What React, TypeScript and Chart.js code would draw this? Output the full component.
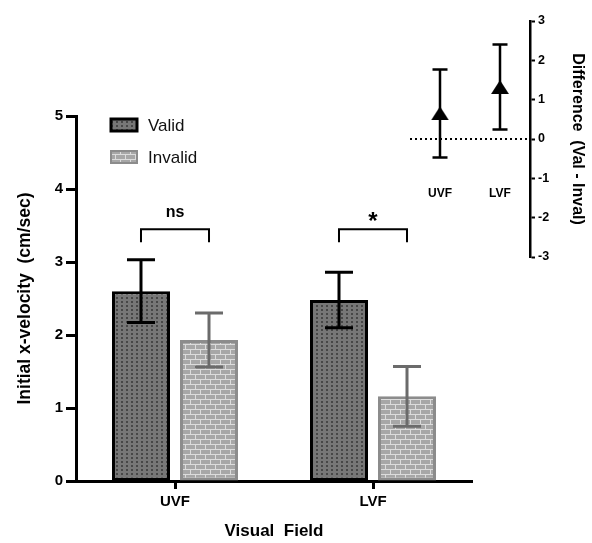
import React, { useEffect, useRef } from 'react';
import { Chart, registerables } from 'chart.js';

Chart.register(...registerables);

// ---- data ----
const categories = ['UVF', 'LVF'];
const seriesNames = ['Valid', 'Invalid'];
const validMeans = [2.6, 2.48];
const validErrors = [0.43, 0.38];
const invalidMeans = [1.93, 1.16];
const invalidErrors = [0.37, 0.41];
const sigLabels = ['ns', '*'];
const bracketLevels = [3.45, 3.45];
const mainTicks = [0, 1, 2, 3, 4, 5];

const diffMeans = [0.65, 1.32];
const diffErrors = [1.12, 1.08];
const diffTicks = [-3, -2, -1, 0, 1, 2, 3];

const FONT = "'Liberation Sans', Arial, Helvetica, sans-serif";

function makeDotPattern(): CanvasPattern | string {
  const c = document.createElement('canvas');
  c.width = 5;
  c.height = 4;
  const g = c.getContext('2d')!;
  g.fillStyle = '#777777';
  g.fillRect(0, 0, 5, 4);
  g.fillStyle = '#474747';
  g.fillRect(1, 1, 2, 2);
  const ctx = document.createElement('canvas').getContext('2d')!;
  return ctx.createPattern(c, 'repeat') || '#777777';
}

function makeBrickPattern(): CanvasPattern | string {
  const c = document.createElement('canvas');
  c.width = 10;
  c.height = 10;
  const g = c.getContext('2d')!;
  g.fillStyle = '#dcdcdc';
  g.fillRect(0, 0, 10, 10);
  g.fillStyle = '#a7a7a7';
  g.fillRect(1, 0, 9, 4);
  g.fillRect(6, 5, 9, 4);
  g.fillRect(-4, 5, 9, 4);
  const ctx = document.createElement('canvas').getContext('2d')!;
  return ctx.createPattern(c, 'repeat') || '#b0b0b0';
}

function makeTriangle(): HTMLCanvasElement {
  const c = document.createElement('canvas');
  c.width = 18;
  c.height = 14;
  const g = c.getContext('2d')!;
  g.fillStyle = '#000';
  g.beginPath();
  g.moveTo(9, 0);
  g.lineTo(18, 14);
  g.lineTo(0, 14);
  g.closePath();
  g.fill();
  return c;
}

export default function App() {
  const mainRef = useRef<HTMLCanvasElement>(null);
  const insetRef = useRef<HTMLCanvasElement>(null);

  useEffect(() => {
    if (!mainRef.current || !insetRef.current) return;
    const dots = makeDotPattern();
    const bricks = makeBrickPattern();
    const tri = makeTriangle();

    const errSets = [validErrors, invalidErrors];
    const errColors = ['#000000', '#6b6b6b'];

    const errorBarsPlugin = {
      id: 'errorBars',
      afterDatasetsDraw(chart: any) {
        const ctx = chart.ctx;
        const y = chart.scales.y;
        ctx.save();
        ctx.lineWidth = 3;
        ctx.lineCap = 'butt';
        [0, 1].forEach((di) => {
          const meta = chart.getDatasetMeta(di);
          const vals = chart.data.datasets[di].data as number[];
          ctx.strokeStyle = errColors[di];
          meta.data.forEach((el: any, i: number) => {
            const top = y.getPixelForValue(vals[i] + errSets[di][i]);
            const bot = y.getPixelForValue(vals[i] - errSets[di][i]);
            ctx.beginPath();
            ctx.moveTo(el.x, top);
            ctx.lineTo(el.x, bot);
            ctx.moveTo(el.x - 14, top);
            ctx.lineTo(el.x + 14, top);
            ctx.moveTo(el.x - 14, bot);
            ctx.lineTo(el.x + 14, bot);
            ctx.stroke();
          });
        });
        ctx.restore();
      },
    };

    const bracketPlugin = {
      id: 'brackets',
      afterDatasetsDraw(chart: any) {
        const ctx = chart.ctx;
        const y = chart.scales.y;
        const m0 = chart.getDatasetMeta(0);
        const m1 = chart.getDatasetMeta(1);
        ctx.save();
        ctx.strokeStyle = '#000';
        ctx.lineWidth = 2;
        ctx.fillStyle = '#000';
        ctx.textAlign = 'center';
        ctx.textBaseline = 'alphabetic';
        categories.forEach((_, i) => {
          const x1 = m0.data[i].x;
          const x2 = m1.data[i].x;
          const yl = y.getPixelForValue(bracketLevels[i]);
          ctx.beginPath();
          ctx.moveTo(x1, yl + 13);
          ctx.lineTo(x1, yl);
          ctx.lineTo(x2, yl);
          ctx.lineTo(x2, yl + 13);
          ctx.stroke();
          const lab = sigLabels[i];
          if (lab === '*') {
            ctx.font = `bold 24px ${FONT}`;
            ctx.fillText(lab, (x1 + x2) / 2, yl);
          } else {
            ctx.font = `bold 16px ${FONT}`;
            ctx.fillText(lab, (x1 + x2) / 2, yl - 12);
          }
        });
        ctx.restore();
      },
    };

    const legendPlugin = {
      id: 'customLegend',
      afterDraw(chart: any) {
        const ctx = chart.ctx;
        const left = chart.chartArea.left + 35;
        const rows = [125, 157];
        const fills = [dots, bricks];
        const strokes = ['#000', '#8c8c8c'];
        const widths = [3, 2];
        ctx.save();
        seriesNames.forEach((name, i) => {
          const cy = rows[i];
          ctx.fillStyle = fills[i];
          ctx.fillRect(left, cy - 6, 26, 12);
          ctx.strokeStyle = strokes[i];
          ctx.lineWidth = widths[i];
          ctx.strokeRect(left, cy - 6, 26, 12);
          ctx.fillStyle = '#111';
          ctx.font = `17px ${FONT}`;
          ctx.textAlign = 'left';
          ctx.textBaseline = 'middle';
          ctx.fillText(name, left + 37, cy + 1);
        });
        ctx.restore();
      },
    };

    const main = new Chart(mainRef.current, {
      type: 'bar',
      data: {
        labels: categories,
        datasets: [
          {
            label: seriesNames[0],
            data: validMeans,
            backgroundColor: dots as any,
            borderColor: '#000000',
            borderWidth: 3,
            borderSkipped: false,
            categoryPercentage: 0.687,
            barPercentage: 0.853,
          },
          {
            label: seriesNames[1],
            data: invalidMeans,
            backgroundColor: bricks as any,
            borderColor: '#8c8c8c',
            borderWidth: 3,
            borderSkipped: false,
            categoryPercentage: 0.687,
            barPercentage: 0.853,
          },
        ],
      },
      options: {
        animation: false,
        responsive: false,
        maintainAspectRatio: false,
        layout: { padding: { top: 116, right: 120, left: 0, bottom: 0 } },
        plugins: { legend: { display: false }, tooltip: { enabled: false } },
        scales: {
          x: {
            offset: true,
            grid: {
              display: true,
              drawOnChartArea: false,
              offset: false,
              tickLength: 8,
              tickWidth: 3,
              tickColor: '#000',
            },
            border: { color: '#000', width: 3 },
            ticks: { font: { family: FONT, size: 15, weight: 'bold' }, color: '#000', padding: 4 },
            title: {
              display: true,
              text: 'Visual  Field',
              font: { family: FONT, size: 17, weight: 'bold' },
              color: '#000',
              padding: { top: 0, bottom: 1 },
            },
            afterFit: (s: any) => {
              s.height = 62;
            },
          },
          y: {
            min: 0,
            max: 5,
            afterBuildTicks: (s: any) => {
              s.ticks = mainTicks.map((v) => ({ value: v }));
            },
            grid: {
              display: true,
              drawOnChartArea: false,
              tickLength: 10,
              tickWidth: 3,
              tickColor: '#000',
            },
            border: { color: '#000', width: 3 },
            ticks: { font: { family: FONT, size: 15, weight: 'bold' }, color: '#000', padding: 3 },
            title: {
              display: true,
              text: 'Initial x-velocity  (cm/sec)',
              font: { family: FONT, size: 17.5, weight: 'bold' },
              color: '#000',
              padding: { top: 14.5, bottom: 0 },
            },
            afterFit: (s: any) => {
              s.width = 76;
            },
          },
        },
      },
      plugins: [errorBarsPlugin, bracketPlugin, legendPlugin],
    });

    const insetPlugin = {
      id: 'insetExtras',
      beforeDatasetsDraw(chart: any) {
        const ctx = chart.ctx;
        const y = chart.scales.y;
        const x = chart.scales.x;
        const area = chart.chartArea;
        ctx.save();
        // zero reference line
        ctx.strokeStyle = '#000';
        ctx.lineWidth = 2;
        ctx.setLineDash([2, 3]);
        const y0 = y.getPixelForValue(0);
        ctx.beginPath();
        ctx.moveTo(area.left, y0);
        ctx.lineTo(area.right, y0);
        ctx.stroke();
        ctx.setLineDash([]);
        // error bars
        ctx.lineWidth = 2.5;
        diffMeans.forEach((v, i) => {
          const px = x.getPixelForValue(i);
          const top = y.getPixelForValue(v + diffErrors[i]);
          const bot = y.getPixelForValue(v - diffErrors[i]);
          ctx.beginPath();
          ctx.moveTo(px, top);
          ctx.lineTo(px, bot);
          ctx.moveTo(px - 7.5, top);
          ctx.lineTo(px + 7.5, top);
          ctx.moveTo(px - 7.5, bot);
          ctx.lineTo(px + 7.5, bot);
          ctx.stroke();
        });
        ctx.restore();
      },
    };

    const inset = new Chart(insetRef.current, {
      type: 'line',
      data: {
        labels: categories,
        datasets: [
          {
            label: 'Difference',
            data: diffMeans,
            showLine: false,
            pointStyle: tri as any,
            pointRadius: 9,
            backgroundColor: '#000',
            borderColor: '#000',
          },
        ],
      },
      options: {
        animation: false,
        responsive: false,
        maintainAspectRatio: false,
        layout: { padding: { top: 21, bottom: 13, left: 30, right: 0 } },
        plugins: { legend: { display: false }, tooltip: { enabled: false } },
        scales: {
          x: {
            type: 'category',
            offset: true,
            position: { y: -1.2 } as any,
            grid: { display: false, drawTicks: false },
            border: { display: false },
            ticks: { font: { family: FONT, size: 12, weight: 'bold' }, color: '#000', padding: 0 },
          },
          y: {
            position: 'right',
            min: -3,
            max: 3,
            afterBuildTicks: (s: any) => {
              s.ticks = diffTicks.map((v) => ({ value: v }));
            },
            grid: {
              display: true,
              drawOnChartArea: false,
              tickLength: 5,
              tickWidth: 2,
              tickColor: '#000',
            },
            border: { color: '#000', width: 2.5 },
            ticks: { font: { family: FONT, size: 12.5, weight: 'bold' }, color: '#000', padding: 3 },
            title: {
              display: true,
              text: 'Difference  (Val - Inval)',
              font: { family: FONT, size: 16, weight: 'bold' },
              color: '#000',
              padding: { top: 5.4, bottom: 0 },
            },
            afterFit: (s: any) => {
              s.width = 62;
            },
          },
        },
      },
      plugins: [insetPlugin],
    });

    return () => {
      main.destroy();
      inset.destroy();
    };
  }, []);

  return (
    <div
      style={{
        position: 'fixed',
        left: 0,
        top: 0,
        width: 592,
        height: 543,
        background: '#fff',
        overflow: 'hidden',
      }}
    >
      <canvas
        ref={mainRef}
        width={592}
        height={543}
        style={{ position: 'absolute', left: 0, top: 0, width: 592, height: 543, display: 'block' }}
      />
      <canvas
        ref={insetRef}
        width={212}
        height={270}
        style={{ position: 'absolute', left: 380, top: 0, width: 212, height: 270, display: 'block' }}
      />
    </div>
  );
}
